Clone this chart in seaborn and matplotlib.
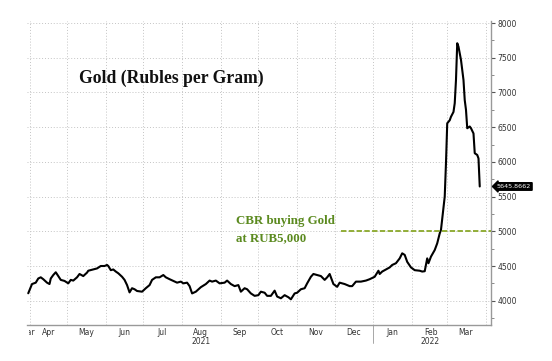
import pandas as pd
import matplotlib.pyplot as plt
import matplotlib.dates as mdates
import matplotlib.transforms as mtransforms
from matplotlib.patches import Rectangle
import seaborn as sns

# DATA - gold price in rubles per gram
dates = [
    '2021-03-31', '2021-04-03', '2021-04-06', '2021-04-08', '2021-04-10', '2021-04-12',
    '2021-04-15', '2021-04-17', '2021-04-18', '2021-04-20', '2021-04-22', '2021-04-24',
    '2021-04-26', '2021-04-29', '2021-05-02', '2021-05-04', '2021-05-06', '2021-05-09',
    '2021-05-11', '2021-05-14', '2021-05-17', '2021-05-18', '2021-05-22', '2021-05-25',
    '2021-05-28', '2021-05-31', '2021-06-02', '2021-06-03', '2021-06-05', '2021-06-07',
    '2021-06-09', '2021-06-11', '2021-06-14', '2021-06-16', '2021-06-18', '2021-06-20',
    '2021-06-22', '2021-06-24', '2021-06-26', '2021-06-30', '2021-07-03', '2021-07-06',
    '2021-07-08', '2021-07-11', '2021-07-14', '2021-07-17', '2021-07-19', '2021-07-22',
    '2021-07-25', '2021-07-28', '2021-07-31', '2021-08-02', '2021-08-05', '2021-08-07',
    '2021-08-09', '2021-08-12', '2021-08-16', '2021-08-20', '2021-08-23', '2021-08-25',
    '2021-08-28', '2021-08-31', '2021-09-04', '2021-09-06', '2021-09-09', '2021-09-12',
    '2021-09-15', '2021-09-17', '2021-09-20', '2021-09-22', '2021-09-25', '2021-09-28',
    '2021-10-01', '2021-10-03', '2021-10-06', '2021-10-08', '2021-10-11', '2021-10-14',
    '2021-10-16', '2021-10-19', '2021-10-22', '2021-10-25', '2021-10-27', '2021-10-30',
    '2021-11-01', '2021-11-04', '2021-11-07', '2021-11-09', '2021-11-12', '2021-11-14',
    '2021-11-17', '2021-11-20', '2021-11-23', '2021-11-25', '2021-11-27', '2021-11-30',
    '2021-12-03', '2021-12-05', '2021-12-09', '2021-12-13', '2021-12-15', '2021-12-18',
    '2021-12-22', '2021-12-26', '2021-12-29', '2022-01-02', '2022-01-05', '2022-01-06',
    '2022-01-08', '2022-01-11', '2022-01-14', '2022-01-16', '2022-01-19', '2022-01-22',
    '2022-01-24', '2022-01-26', '2022-01-28', '2022-01-31', '2022-02-03', '2022-02-07',
    '2022-02-09', '2022-02-11', '2022-02-13', '2022-02-14', '2022-02-16', '2022-02-19',
    '2022-02-21', '2022-02-23', '2022-02-24', '2022-02-27', '2022-02-28', '2022-03-01',
    '2022-03-03', '2022-03-04', '2022-03-06', '2022-03-07', '2022-03-08', '2022-03-09',
    '2022-03-10', '2022-03-12', '2022-03-14', '2022-03-15', '2022-03-16', '2022-03-17',
    '2022-03-19', '2022-03-20', '2022-03-22', '2022-03-23', '2022-03-25', '2022-03-26',
    '2022-03-27',
]
prices = [
    4107, 4240, 4260, 4320, 4337, 4310,
    4260, 4240, 4320, 4370, 4410, 4355,
    4300, 4285, 4250, 4300, 4290, 4337,
    4385, 4355, 4405, 4432, 4450, 4465,
    4500, 4500, 4515, 4500, 4440, 4450,
    4420, 4395, 4345, 4300, 4225, 4120,
    4180, 4165, 4140, 4130, 4180, 4225,
    4300, 4337, 4337, 4370, 4337, 4310,
    4285, 4260, 4275, 4250, 4260, 4210,
    4105, 4130, 4195, 4240, 4290, 4275,
    4290, 4250, 4260, 4290, 4240, 4210,
    4225, 4130, 4180, 4165, 4105, 4070,
    4080, 4130, 4115, 4070, 4070, 4145,
    4060, 4035, 4080, 4050, 4020, 4105,
    4115, 4165, 4180, 4250, 4345, 4385,
    4370, 4355, 4300, 4337, 4385, 4240,
    4200, 4260, 4240, 4210, 4210, 4275,
    4275, 4290, 4310, 4345, 4432, 4385,
    4420, 4450, 4480, 4515, 4540, 4610,
    4683, 4660, 4560, 4480, 4440, 4432,
    4420, 4425, 4610, 4540, 4635, 4730,
    4827, 4970, 5020, 5500, 5980, 6556,
    6600, 6650, 6720, 6845, 7180, 7710,
    7660, 7470, 7180, 6890, 6750, 6485,
    6510, 6485, 6410, 6125, 6100, 6050,
    5645.8662,
]
last_label = '5645.8662'

title_text = 'Gold (Rubles per Gram)'
cbr_text = 'CBR buying Gold\nat RUB5,000'
cbr_level = 5000
cbr_start = '2021-12-06'

x_start = '2021-03-30'
x_end = '2022-04-05'
year_labels = ['2021', '2022']
year_label_dates = ['2021-08-16', '2022-02-15']
year_split = '2022-01-01'

df = pd.DataFrame({'date': pd.to_datetime(dates), 'price': prices})

sns.set_style('white')
plt.rcParams['font.family'] = ['DejaVu Sans']

fig = plt.figure(figsize=(5.52, 3.61), dpi=100)
ax = fig.add_axes([27 / 552, 1 - 325 / 361, 464 / 552, 304 / 361])

sns.lineplot(data=df, x='date', y='price', color='black', linewidth=1.5, ax=ax)

x0, x1 = pd.Timestamp(x_start), pd.Timestamp(x_end)
ax.set_xlim(x0, x1)
ax.set_ylim(3650, 8030)

# CBR level - dashed green line out to the right edge
ax.hlines(cbr_level, pd.Timestamp(cbr_start), x1, colors='#8aa82a',
          linestyles=(0, (3, 1.3)), linewidth=1.3, zorder=3)

# AXES - y on the right, month ticks on the bottom
ax.yaxis.tick_right()
ax.yaxis.set_label_position('right')
ax.set_yticks(range(4000, 8001, 500))
ax.set_yticks(range(3750, 8001, 250), minor=True)
ax.xaxis.set_major_locator(mdates.MonthLocator())
ax.xaxis.set_major_formatter(plt.NullFormatter())
ax.xaxis.set_minor_locator(mdates.MonthLocator(bymonthday=16))
ax.xaxis.set_minor_formatter(mdates.DateFormatter('%b'))
ax.tick_params(axis='y', which='major', labelsize=5.5, length=3, width=0.8,
               color='#555555', pad=1.5, labelcolor='#333333')
ax.tick_params(axis='y', which='minor', length=2, width=0.6, color='#777777')
ax.tick_params(axis='x', which='major', length=3, width=0.6, color='#888888',
               direction='inout')
ax.tick_params(axis='x', which='minor', length=0, labelsize=5.5, pad=2,
               labelcolor='#333333')
ax.set_xlabel('')
ax.set_ylabel('')

for side in ['left', 'top']:
    ax.spines[side].set_visible(False)
for side in ['right', 'bottom']:
    ax.spines[side].set_color('#999999')
    ax.spines[side].set_linewidth(1.0)

ax.grid(True, which='major', color='#c4c4c4', linestyle=(0, (1, 2)), linewidth=0.7)

# 'Mar' cut off at the left edge, year labels underneath
trans = mtransforms.blended_transform_factory(ax.transData, ax.transAxes)
mar = ax.text(0.018, -0.0095, 'Mar', transform=ax.transAxes, fontsize=5.5,
              color='#333333', ha='right', va='top')
clip = Rectangle((29 / 552, 0), 0.2, 0.1, transform=fig.transFigure)
mar.set_clip_path(clip)
mar.set_clip_on(True)
for lbl, d in zip(year_labels, year_label_dates):
    ax.text(pd.Timestamp(d), -0.053, lbl, transform=trans, fontsize=5.5,
            color='#333333', ha='center', va='center')
ax.plot([pd.Timestamp(year_split)] * 2, [0, -0.058], transform=trans,
        color='#999999', linewidth=0.6, clip_on=False)

# last value tag
ytrans = mtransforms.blended_transform_factory(ax.transAxes, ax.transData)
ax.text(1.012, prices[-1], last_label, transform=ytrans, fontsize=4.6,
        color='white', ha='left', va='center',
        bbox=dict(boxstyle='larrow,pad=0.2', fc='black', ec='black'))

# annotations
ax.text(0.113, 0.81, title_text, transform=ax.transAxes, fontsize=12.7,
        fontweight='bold', family=['Liberation Serif', 'DejaVu Serif'],
        color='#111111', ha='left', va='center')
ax.text(0.451, 0.314, cbr_text, transform=ax.transAxes, fontsize=9.3,
        fontweight='bold', family=['Liberation Serif', 'DejaVu Serif'],
        color='#5b8a1f', ha='left', va='center', linespacing=1.55)

fig.savefig('out.png', dpi=100)
